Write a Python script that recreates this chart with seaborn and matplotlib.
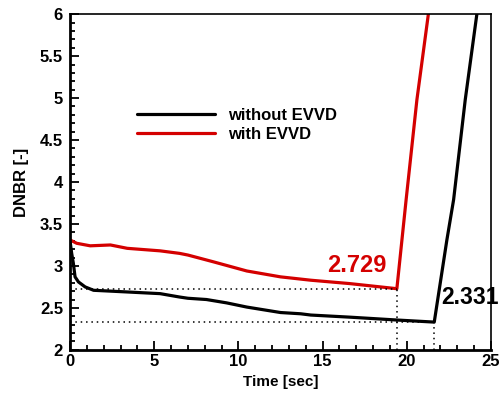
import matplotlib
matplotlib.use("Agg")
import matplotlib.pyplot as plt
import seaborn as sns
import numpy as np
import pandas as pd
from matplotlib.ticker import MultipleLocator, FuncFormatter

# ---- data ----
t_without = [0.0, 0.1, 0.2, 0.3, 0.5, 0.9, 1.4, 2.4, 3.4, 5.35, 6.5, 7.0, 8.1, 9.3,
             10.5, 12.5, 13.7, 14.3, 16.6, 19.3, 21.63, 22.38, 22.78, 23.47, 24.16]
dnbr_without = [3.30, 3.15, 3.03, 2.87, 2.81, 2.75, 2.71, 2.70, 2.69, 2.67, 2.63, 2.615, 2.60, 2.56,
                2.51, 2.445, 2.43, 2.415, 2.39, 2.357, 2.331, 3.31, 3.79, 4.98, 6.0]

t_with = [0.0, 0.1, 0.4, 1.2, 2.4, 3.4, 5.35, 6.5, 7.0, 8.5, 10.5, 12.5, 14.3, 16.6, 19.41,
          19.96, 20.6, 21.28]
dnbr_with = [3.31, 3.30, 3.27, 3.24, 3.25, 3.21, 3.18, 3.15, 3.13, 3.05, 2.94, 2.87, 2.83, 2.79, 2.729,
             3.79, 4.98, 6.0]

label_without = "without EVVD"
label_with = "with EVVD"

min_without_t, min_without_v = 21.63, 2.331
min_with_t, min_with_v = 19.41, 2.729

RED = "#d40000"

sns.set_style("ticks")
plt.rcParams["font.family"] = ["Liberation Sans", "DejaVu Sans"]
plt.rcParams["font.weight"] = "bold"
plt.rcParams["axes.labelweight"] = "bold"
for k in ["text.color", "axes.labelcolor", "xtick.color", "ytick.color",
          "xtick.labelcolor", "ytick.labelcolor", "axes.edgecolor"]:
    plt.rcParams[k] = "black"

fig = plt.figure(figsize=(5.0, 3.94), dpi=100)
ax = fig.add_axes([0.14, 0.112, 0.842, 0.852])

df_wo = pd.DataFrame({"t": t_without, "v": dnbr_without})
df_w = pd.DataFrame({"t": t_with, "v": dnbr_with})
sns.lineplot(data=df_wo, x="t", y="v", color="black", linewidth=2.3, label=label_without,
             ax=ax, legend=False)
sns.lineplot(data=df_w, x="t", y="v", color=RED, linewidth=2.3, label=label_with,
             ax=ax, legend=False)

# dotted guide lines
for tm, vm in [(min_with_t, min_with_v), (min_without_t, min_without_v)]:
    ax.plot([0, tm], [vm, vm], color="black", linestyle=(0, (1, 2.5)), linewidth=1.1)
    ax.plot([tm, tm], [2, vm], color="black", linestyle=(0, (1, 2.5)), linewidth=1.1)

ax.text(18.8, 3.0, f"{min_with_v:.3f}", color=RED, fontsize=17, fontweight="bold",
        ha="right", va="center")
ax.text(22.05, 2.62, f"{min_without_v:.3f}", color="black", fontsize=16.5, fontweight="bold",
        ha="left", va="center", clip_on=False)

ax.set_xlim(0, 25)
ax.set_ylim(2, 6)
ax.xaxis.set_major_locator(MultipleLocator(5))
ax.xaxis.set_minor_locator(MultipleLocator(1))
ax.yaxis.set_major_locator(MultipleLocator(0.5))
ax.yaxis.set_minor_locator(MultipleLocator(0.1))
fmt = FuncFormatter(lambda v, p: f"{v:g}")
ax.xaxis.set_major_formatter(fmt)
ax.yaxis.set_major_formatter(fmt)

ax.tick_params(which="both", direction="in", top=False, right=False, width=1.3,
               labelsize=12, color="black", labelcolor="black")
ax.tick_params(axis="x", pad=3)
ax.tick_params(axis="y", pad=5)
ax.tick_params(which="major", length=6.5)
ax.tick_params(which="minor", length=3.5)

for s in ["left", "bottom"]:
    ax.spines[s].set_linewidth(2.0)
for s in ["top", "right"]:
    ax.spines[s].set_linewidth(1.2)
for s in ax.spines.values():
    s.set_color("black")

ax.set_xlabel("Time [sec]", fontsize=11, fontweight="bold", labelpad=4, color="black")
ax.set_ylabel("DNBR [-]", fontsize=12, fontweight="bold", labelpad=8, color="black")

leg = ax.legend(loc="center left", bbox_to_anchor=(0.159, 0.67), frameon=False,
                fontsize=12, handlelength=4.7, handletextpad=0.75, labelspacing=0.2,
                borderpad=0, borderaxespad=0)
for txt in leg.get_texts():
    txt.set_fontweight("bold")
    txt.set_color("black")

fig.canvas.draw()
for tick in ax.xaxis.get_major_ticks() + ax.yaxis.get_major_ticks():
    tick.label1.set_fontweight("bold")

fig.savefig("out.png", dpi=100)
